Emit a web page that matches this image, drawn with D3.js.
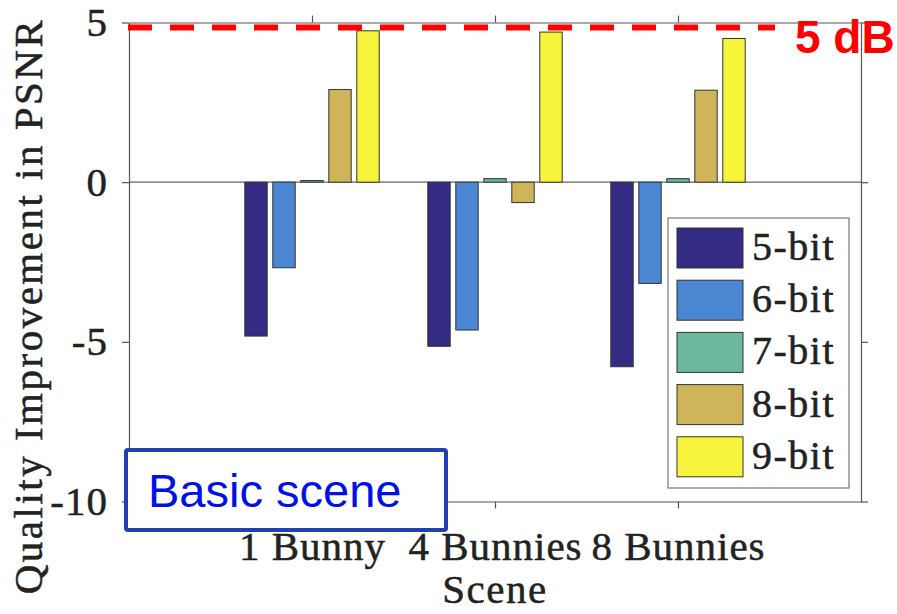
<!DOCTYPE html>
<html>
<head>
<meta charset="utf-8">
<script src="https://cdn.jsdelivr.net/npm/d3@7"></script>
<style>
  body { margin: 0; background: #fff; }
  svg { display: block; }
  .serif { font-family: "Liberation Serif", "DejaVu Serif", serif; stroke: #222; stroke-width: 0.5px; }
  .sans { font-family: "Liberation Sans", Arial, sans-serif; }
</style>
</head>
<body>
<div id="chart"></div>
<script>
// data
const scenes = ["1 Bunny", "4 Bunnies", "8 Bunnies"];
const sceneX = [1, 2, 3];
const series = ["5-bit", "6-bit", "7-bit", "8-bit", "9-bit"];
const colors = ["#342c84", "#4a86d2", "#6bb89c", "#cfb45a", "#f6f53c"];
const values5 = [-4.82, -5.14, -5.78];
const values6 = [-2.68, -4.63, -3.17];
const values7 = [0.05, 0.11, 0.11];
const values8 = [2.90, -0.64, 2.88];
const values9 = [4.74, 4.70, 4.50];
const yTicks = [-10, -5, 0, 5];
const threshold = 4.84;
const thresholdLabel = "5 dB";
const noteLabel = "Basic scene";

const width = 897, height = 614;

const svg = d3.select("#chart").append("svg")
  .attr("width", width)
  .attr("height", height);

const x = d3.scaleLinear().domain([0, 4]).range([129, 861]);
const y = d3.scaleLinear().domain([-10, 5]).range([501.5, 22.5]);
const sub = d3.scaleBand().domain(series).range([-70, 70])
  .paddingInner(0.2).paddingOuter(0.1);

const allVals = [values5, values6, values7, values8, values9];
const rows = [];
series.forEach((s, k) => {
  allVals[k].forEach((v, i) => rows.push({s: s, k: k, cx: sceneX[i], v: v}));
});

// zero baseline
svg.append("line")
  .attr("x1", x(0)).attr("x2", x(4))
  .attr("y1", y(0)).attr("y2", y(0))
  .attr("stroke", "#666").attr("stroke-width", 1.2);

// bars
svg.append("g").selectAll("rect")
  .data(rows)
  .enter().append("rect")
  .attr("x", d => x(d.cx) + sub(d.s))
  .attr("width", sub.bandwidth())
  .attr("y", d => y(Math.max(0, d.v)))
  .attr("height", d => Math.abs(y(d.v) - y(0)))
  .attr("fill", d => colors[d.k])
  .attr("stroke", "#333")
  .attr("stroke-width", 1);

// axes (box with outward ticks)
const axisColor = "#555";
const fmt = d => String(d);
const leftAxis = svg.append("g").attr("transform", `translate(${x(0)},0)`)
  .call(d3.axisLeft(y).tickValues(yTicks).tickFormat(fmt).tickSize(7).tickSizeOuter(0).tickPadding(14));
const rightAxis = svg.append("g").attr("transform", `translate(${x(4)},0)`)
  .call(d3.axisRight(y).tickValues(yTicks).tickFormat("").tickSize(7).tickSizeOuter(0));
const bottomAxis = svg.append("g").attr("transform", `translate(0,${y(-10)})`)
  .call(d3.axisBottom(x).tickValues(sceneX).tickFormat((d, i) => scenes[i]).tickSize(7).tickSizeOuter(0).tickPadding(22));
const topAxis = svg.append("g").attr("transform", `translate(0,${y(5)})`)
  .call(d3.axisTop(x).tickValues(sceneX).tickFormat("").tickSize(7).tickSizeOuter(0));

[leftAxis, rightAxis, bottomAxis, topAxis].forEach(g => {
  g.attr("font-family", null).attr("font-size", null);
  g.select(".domain").attr("stroke", axisColor).attr("stroke-width", 1.2);
  g.selectAll(".tick line").attr("stroke", axisColor).attr("stroke-width", 1.2);
  g.selectAll(".tick text")
    .attr("class", "serif")
    .attr("fill", "#222")
    .style("font-size", "41px")
    .style("letter-spacing", "1px");
});

// axis titles
svg.append("text")
  .attr("class", "serif")
  .attr("x", 495).attr("y", 603)
  .attr("text-anchor", "middle")
  .style("font-size", "41px")
  .style("letter-spacing", "1.5px")
  .attr("fill", "#222")
  .text("Scene");

svg.append("text")
  .attr("class", "serif")
  .attr("transform", "translate(42,306) rotate(-90)")
  .attr("text-anchor", "middle")
  .style("font-size", "41px")
  .style("letter-spacing", "2.5px")
  .attr("fill", "#222")
  .text("Quality Improvement in PSNR");

// legend
const legend = svg.append("g").attr("transform", "translate(668,218)");
legend.append("rect")
  .attr("width", 181).attr("height", 270)
  .attr("fill", "#fff").attr("stroke", "#777").attr("stroke-width", 1.2);
const item = legend.selectAll(".item")
  .data(series)
  .enter().append("g")
  .attr("class", "item")
  .attr("transform", (d, i) => `translate(9,${10 + i * 52.2})`);
item.append("rect")
  .attr("width", 66).attr("height", 40)
  .attr("fill", (d, i) => colors[i])
  .attr("stroke", "#333").attr("stroke-width", 1);
item.append("text")
  .attr("class", "serif")
  .attr("x", 75).attr("y", 32)
  .style("font-size", "40px")
  .style("letter-spacing", "1.5px")
  .attr("fill", "#222")
  .text(d => d);

// red threshold line
svg.append("line")
  .attr("x1", 128).attr("x2", 775)
  .attr("y1", y(threshold)).attr("y2", y(threshold))
  .attr("stroke", "#ff0000").attr("stroke-width", 6)
  .attr("stroke-dasharray", "24,18");

svg.append("text")
  .attr("class", "sans")
  .attr("x", 795).attr("y", 53)
  .style("font-weight", "bold").style("font-size", "46px")
  .attr("fill", "#ff0000")
  .text(thresholdLabel);

// "Basic scene" note
svg.append("rect")
  .attr("x", 126).attr("y", 450)
  .attr("width", 320).attr("height", 80)
  .attr("rx", 2)
  .attr("fill", "#fff").attr("stroke", "#2040b0").attr("stroke-width", 4);
svg.append("text")
  .attr("class", "sans")
  .attr("x", 148).attr("y", 507)
  .style("font-size", "47px")
  .attr("fill", "#0010e8")
  .text(noteLabel);
</script>
</body>
</html>
